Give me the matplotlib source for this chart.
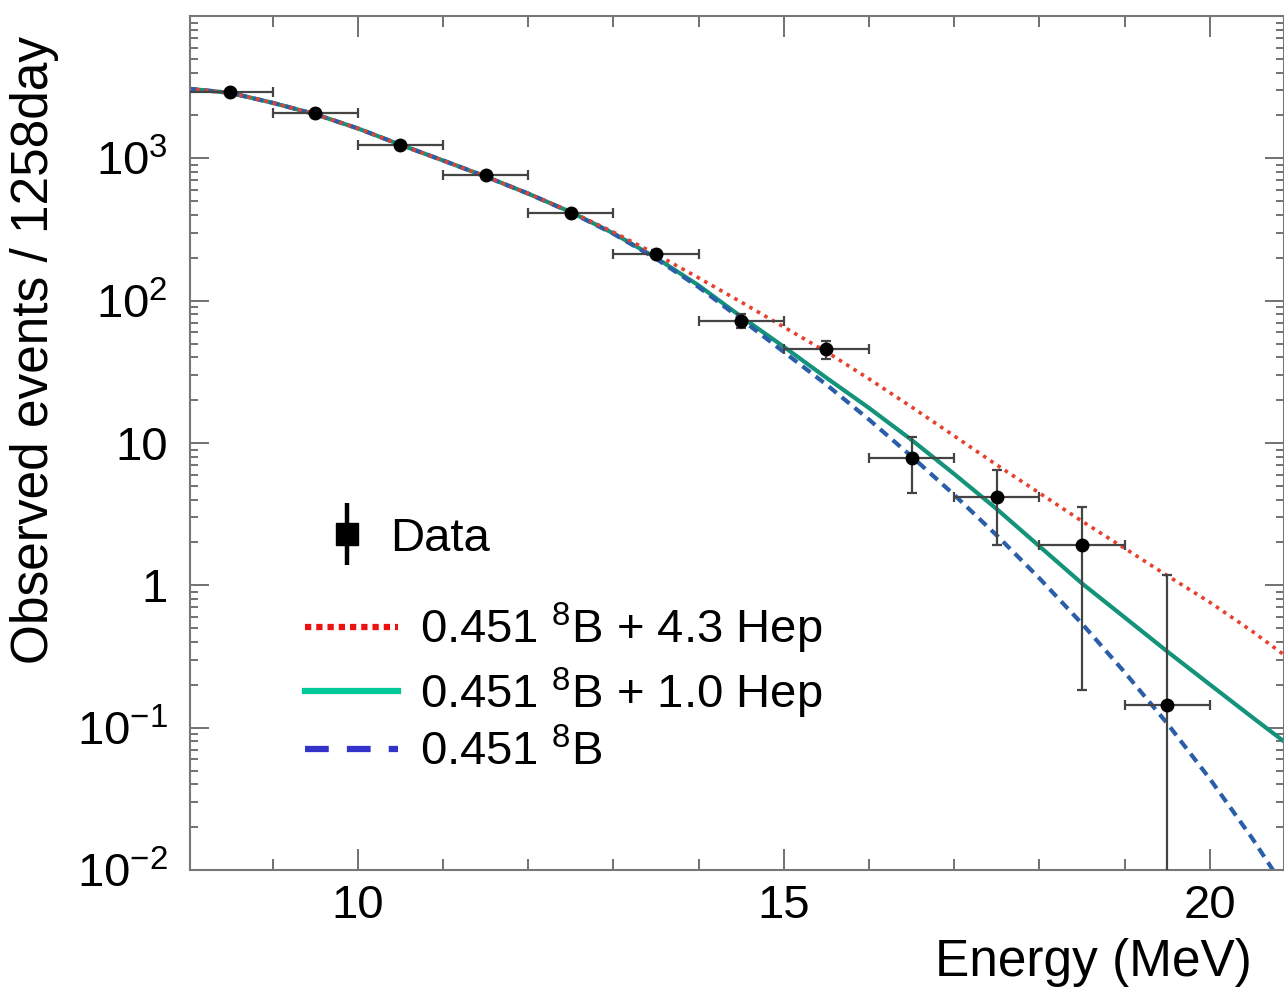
import numpy as np
import matplotlib
matplotlib.use("Agg")
import matplotlib.pyplot as plt
from matplotlib.lines import Line2D
from matplotlib.ticker import FixedLocator, FixedFormatter, LogLocator, MultipleLocator, NullFormatter

plt.rcParams['font.family'] = ['Liberation Sans', 'DejaVu Sans']
plt.rcParams['mathtext.fontset'] = 'custom'
plt.rcParams['mathtext.rm'] = 'Liberation Sans'
plt.rcParams['mathtext.it'] = 'Liberation Sans:italic'
plt.rcParams['mathtext.bf'] = 'Liberation Sans:bold'

# measured spectrum (bin centres, counts, error band)
data_e = [8.5, 9.5, 10.5, 11.5, 12.5, 13.5, 14.5, 15.5, 16.5, 17.5, 18.5, 19.5]
data_n = [2917, 2075, 1235, 759, 410, 214, 72.3, 45.9, 7.84, 4.17, 1.91, 0.145]
data_lo = [2860, 2030, 1200, 735, 393, 202, 64, 39.0, 4.45, 1.91, 0.185, 0.001]
data_hi = [2975, 2120, 1270, 785, 428, 227, 80, 52.3, 11.0, 6.45, 3.54, 1.19]
bin_half = 0.5

# expected spectra
curve_e = [8.0, 8.5, 9.0, 9.5, 10.0, 10.5, 11.0, 11.5, 12.0, 12.5, 13.0, 13.5, 14.0,
           14.5, 15.0, 15.5, 16.0, 16.5, 17.0, 17.5, 18.0, 18.5, 19.0, 19.5, 20.0,
           20.5, 20.87]
low_part = [3090, 2884, 2455, 2042, 1622, 1245, 966, 745, 565]
b8_hep43 = low_part + [422, 303, 212, 144.5, 97.7, 65.3, 43.7, 28.2, 17.9, 11.2, 7.0,
                       4.45, 2.82, 1.82, 1.17, 0.76, 0.474, 0.325]
b8_hep10 = low_part + [419, 297, 200, 128, 77.1, 47.4, 28.7, 17.6, 10.5, 6.05, 3.43,
                       1.88, 1.03, 0.595, 0.343, 0.201, 0.118, 0.080]
b8_only = low_part + [417, 295, 197, 124.5, 74, 43.6, 25.7, 14.6, 8.04, 4.32, 2.24,
                      1.12, 0.537, 0.245, 0.107, 0.0437, 0.0166, 0.0076]

ytick_vals = [1e-2, 1e-1, 1, 10, 1e2, 1e3]
ytick_labels = [r'$10^{-2}$', r'$10^{-1}$', '1', '10', r'$10^{2}$', r'$10^{3}$']
xtick_vals = [10, 15, 20]

labels = [r'0.451 $^{8}$B + 4.3 Hep', r'0.451 $^{8}$B + 1.0 Hep', r'0.451 $^{8}$B']

fig = plt.figure(figsize=(12.84, 9.88), dpi=100)
ax = fig.add_axes([190 / 1284, 1 - 870 / 988, 1094 / 1284, 854 / 988])

ax.plot(curve_e, b8_hep10, color='#12937a', lw=3.0, zorder=2)
ax.plot(curve_e, b8_only, color='#2b5ea8', lw=3.0, dashes=(2.4, 1.6), zorder=2)
ax.plot(curve_e, b8_hep43, color='#e8402f', lw=2.6, linestyle=(0, (1, 1.4)), zorder=2)

n = np.array(data_n)
yerr = [n - np.array(data_lo), np.array(data_hi) - n]
ax.errorbar(data_e, data_n, xerr=bin_half, yerr=yerr, fmt='o', color='black',
            ecolor='#444444', elinewidth=1.6, capsize=3.6, capthick=1.6,
            markersize=9, zorder=3)

ax.set_yscale('log')
ax.set_xlim(8.03, 20.87)
ax.set_ylim(1e-2, 1e4)

ax.yaxis.set_major_locator(FixedLocator(ytick_vals))
ax.yaxis.set_major_formatter(FixedFormatter(ytick_labels))
ax.yaxis.set_minor_locator(LogLocator(base=10, subs=np.arange(2, 10), numticks=20))
ax.yaxis.set_minor_formatter(NullFormatter())
ax.xaxis.set_major_locator(FixedLocator(xtick_vals))
ax.xaxis.set_minor_locator(MultipleLocator(1))

ax.tick_params(which='both', direction='in', top=True, right=True, colors='#666666',
               labelcolor='black', width=1.3, labelsize=34)
ax.tick_params(axis='y', which='major', length=14, pad=16)
ax.tick_params(axis='y', which='minor', length=6)
ax.tick_params(axis='x', which='major', length=15, pad=10)
ax.tick_params(axis='x', which='minor', length=8)
for s in ax.spines.values():
    s.set_color('#777777')
    s.set_linewidth(1.5)

ax.set_xlabel('Energy (MeV)', fontsize=37, ha='right', va='center')
ax.xaxis.set_label_coords((1252 - 190) / 1094, (870 - 962) / 854)
ax.set_ylabel('Observed events / 1258day', fontsize=37, va='center')
ax.yaxis.set_label_coords((35 - 190) / 1094, (870 - 350) / 854)

# legends
data_handle = (Line2D([], [], color='black', marker='|', markersize=45, mew=3.2, linestyle='none'),
               Line2D([], [], color='black', marker='s', markersize=16, linestyle='none'))
leg1 = fig.legend([data_handle], ['Data'], loc='center left',
                  bbox_to_anchor=(323 / 1284, 1 - 539 / 988), frameon=False,
                  fontsize=34, handlelength=1.0, handletextpad=0.42,
                  borderpad=0, borderaxespad=0)
line_handles = [Line2D([], [], color='#ee1111', lw=4.5, dashes=(1.0, 0.8)),
                Line2D([], [], color='#00c896', lw=4.5),
                Line2D([], [], color='#3333cc', lw=4.5, dashes=(3.8, 2.9))]
leg2 = fig.legend(line_handles, labels, loc='center left',
                  bbox_to_anchor=(305 / 1284, 1 - 688 / 988), frameon=False,
                  fontsize=34, handlelength=1.97, handletextpad=0.46,
                  labelspacing=0.2, borderpad=0, borderaxespad=0)

fig.savefig('out.png', dpi=100)
